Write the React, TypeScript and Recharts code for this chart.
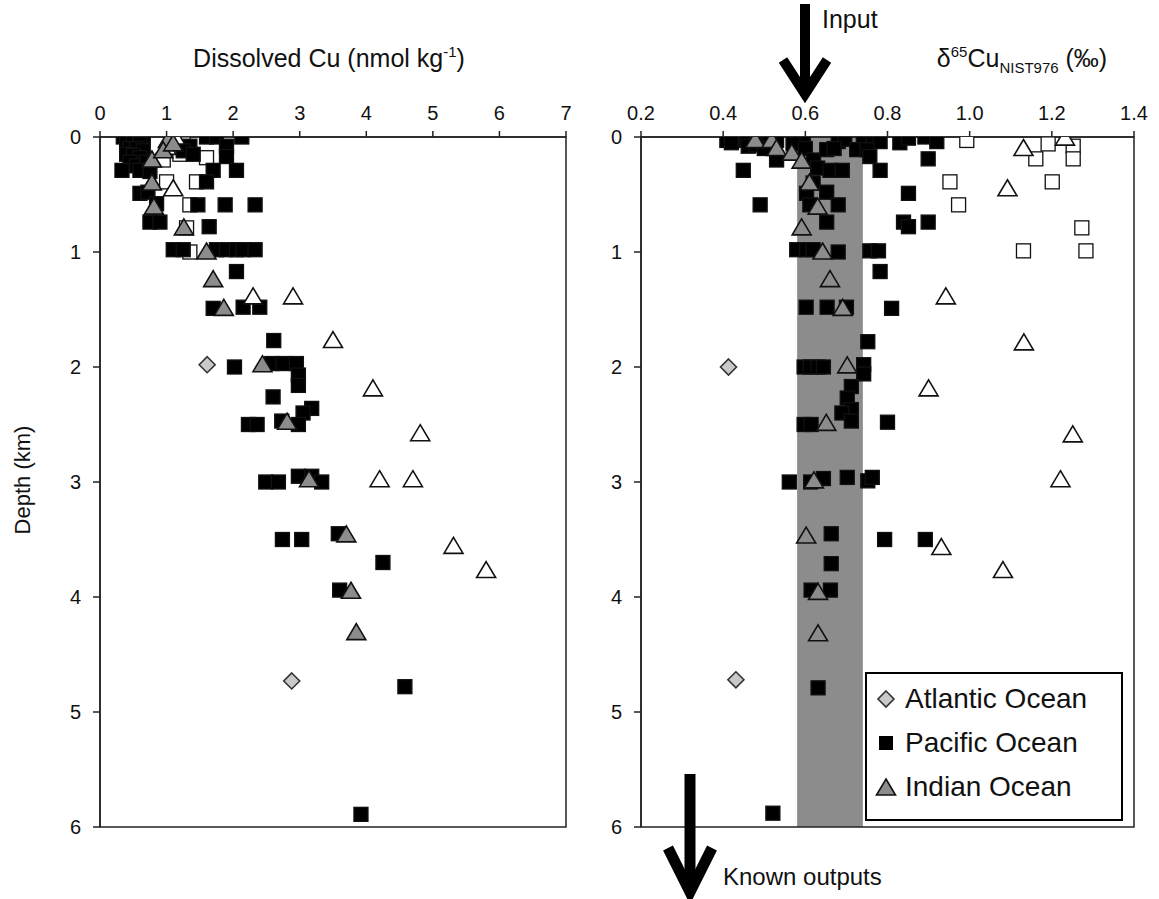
import React from 'react';
import { ScatterChart, Scatter, XAxis, YAxis, ReferenceArea, Legend } from 'recharts';

type Pt = [number, number];

const FONT = "'Liberation Sans', Arial, Helvetica, sans-serif";

// axis ticks
const cuTicks = [0, 1, 2, 3, 4, 5, 6, 7];
const d65Ticks = [0.2, 0.4, 0.6, 0.8, 1.0, 1.2, 1.4];
const depthTicks = [0, 1, 2, 3, 4, 5, 6];

// shaded "input" range of d65Cu
const inputBand = [0.58, 0.74];

// Dissolved Cu panel: [Cu nmol/kg, depth km]
const atlanticCu: Pt[] = [[1.61, 1.98], [2.88, 4.73]];
const pacificCu: Pt[] = [
  [0.35, 0.0], [0.45, 0.0], [0.55, 0.0], [0.65, 0.0], [0.4, 0.05], [0.5, 0.04], [0.6, 0.06], [0.45, 0.1],
  [0.55, 0.1], [0.65, 0.12], [0.4, 0.15], [0.5, 0.16], [0.6, 0.18], [0.45, 0.22], [0.55, 0.25], [0.7, 0.22],
  [0.33, 0.29], [0.6, 0.29], [0.75, 0.3], [0.6, 0.49], [0.72, 0.48], [0.85, 0.58], [0.75, 0.74], [0.9, 0.74],
  [1.1, 0.98], [1.25, 0.98], [1.6, 0.0], [1.75, 0.0], [2.13, 0.0], [1.9, 0.08], [1.9, 0.17], [1.35, 0.08],
  [1.25, 0.12], [1.4, 0.15], [2.05, 0.29], [1.7, 0.29], [1.6, 0.39], [1.47, 0.59], [1.88, 0.59], [2.33, 0.59],
  [1.64, 0.78], [1.75, 0.98], [1.9, 0.98], [2.05, 0.98], [2.15, 0.98], [2.33, 0.98], [2.05, 1.17], [1.7, 1.49],
  [2.15, 1.48], [2.4, 1.48], [2.61, 1.77], [2.02, 2.0], [2.58, 1.97], [2.75, 1.97], [2.95, 1.97], [2.98, 2.07],
  [2.98, 2.16], [2.6, 2.26], [3.18, 2.36], [3.05, 2.4], [2.23, 2.5], [2.36, 2.5], [2.73, 2.47], [2.98, 2.5],
  [2.49, 3.0], [2.68, 3.0], [2.98, 2.95], [3.18, 2.95], [3.33, 3.0], [2.74, 3.5], [3.03, 3.5], [3.58, 3.45],
  [4.25, 3.7], [3.6, 3.94], [4.58, 4.78], [3.92, 5.89],
];
const indianCu: Pt[] = [
  [0.78, 0.2], [0.78, 0.4], [0.81, 0.61], [1.26, 0.79], [1.6, 1.0], [1.7, 1.24], [1.86, 1.49], [2.44, 1.98],
  [2.81, 2.48], [3.14, 2.98], [3.7, 3.46], [3.77, 3.95], [3.85, 4.31], [1.02, 0.03], [0.95, 0.12], [1.1, 0.06],
];
const openTriCu: Pt[] = [
  [1.13, 0.0], [1.1, 0.45], [2.3, 1.39], [2.9, 1.39], [3.5, 1.77], [4.1, 2.19], [4.81, 2.58], [4.2, 2.98],
  [4.7, 2.98], [5.31, 3.56], [5.8, 3.77], [1.0, 0.09],
];
const openSqCu: Pt[] = [
  [1.6, 0.18], [1.0, 0.39], [1.45, 0.39], [1.35, 0.59], [1.3, 0.79], [1.35, 1.0], [1.15, 0.03], [1.05, 0.1],
  [1.25, 0.06], [1.2, 0.15], [0.95, 0.2],
];

// d65Cu panel: [d65Cu permil, depth km]
const atlanticD65: Pt[] = [[0.413, 2.0], [0.431, 4.72]];
const pacificD65: Pt[] = [
  [0.409, 0.03], [0.433, 0.02], [0.457, 0.03], [0.506, 0.02], [0.53, 0.03], [0.579, 0.02], [0.595, 0.04],
  [0.68, 0.04], [0.696, 0.02], [0.741, 0.04], [0.765, 0.03], [0.782, 0.04], [0.83, 0.05], [0.851, 0.01],
  [0.891, 0.0], [0.92, 0.04], [0.461, 0.08], [0.42, 0.05], [0.48, 0.07], [0.5, 0.1], [0.53, 0.2], [0.57, 0.06],
  [0.6, 0.1], [0.62, 0.2], [0.63, 0.27], [0.449, 0.29], [0.652, 0.11], [0.67, 0.1], [0.66, 0.29], [0.69, 0.29],
  [0.619, 0.4], [0.603, 0.49], [0.652, 0.48], [0.611, 0.59], [0.68, 0.59], [0.652, 0.74], [0.49, 0.59],
  [0.725, 0.11], [0.75, 0.11], [0.757, 0.17], [0.782, 0.29], [0.899, 0.19], [0.851, 0.49], [0.839, 0.74],
  [0.851, 0.78], [0.899, 0.74], [0.579, 0.98], [0.603, 0.98], [0.619, 0.98], [0.68, 1.0], [0.757, 0.99],
  [0.778, 0.99], [0.782, 1.17], [0.602, 1.48], [0.653, 1.48], [0.7, 1.48], [0.81, 1.49], [0.752, 1.78],
  [0.597, 2.0], [0.612, 2.0], [0.631, 2.0], [0.644, 2.0], [0.742, 1.98], [0.742, 2.06], [0.712, 2.17],
  [0.702, 2.27], [0.712, 2.37], [0.689, 2.4], [0.712, 2.47], [0.597, 2.5], [0.614, 2.5], [0.8, 2.48],
  [0.561, 3.0], [0.613, 3.0], [0.644, 2.97], [0.702, 2.96], [0.752, 2.99], [0.763, 2.96], [0.663, 3.45],
  [0.793, 3.5], [0.892, 3.5], [0.663, 3.71], [0.614, 3.94], [0.661, 3.94], [0.631, 4.79], [0.521, 5.88],
];
const indianD65: Pt[] = [
  [0.478, 0.03], [0.518, 0.03], [0.53, 0.1], [0.567, 0.14], [0.591, 0.21], [0.61, 0.4], [0.63, 0.61],
  [0.591, 0.79], [0.642, 1.0], [0.66, 1.24], [0.691, 1.49], [0.702, 1.99], [0.651, 2.49], [0.621, 2.99],
  [0.602, 3.47], [0.631, 3.96], [0.631, 4.32],
];
const openTriD65: Pt[] = [
  [1.232, 0.01], [1.131, 0.1], [1.092, 0.45], [0.942, 1.39], [1.132, 1.79], [0.9, 2.19], [1.251, 2.59],
  [1.221, 2.98], [0.931, 3.57], [1.081, 3.77],
];
const openSqD65: Pt[] = [
  [0.993, 0.03], [1.191, 0.06], [1.161, 0.19], [1.252, 0.08], [1.252, 0.19], [0.952, 0.39], [1.201, 0.39],
  [0.973, 0.59], [1.273, 0.79], [1.131, 0.99], [1.283, 0.99],
];

const legendItems = ['Atlantic Ocean', 'Pacific Ocean', 'Indian Ocean'];

const toRows = (pts: Pt[]) => pts.map(([x, y]) => ({ x, y }));

// marker shapes
const square = (fill: string) => (p: any) => (
  <rect x={p.cx - 7} y={p.cy - 7} width={14} height={14} fill={fill} stroke="#111" strokeWidth={1.3} />
);
const triangle = (fill: string) => (p: any) => (
  <polygon
    points={`${p.cx},${p.cy - 9} ${p.cx + 9.5},${p.cy + 7} ${p.cx - 9.5},${p.cy + 7}`}
    fill={fill}
    stroke="#111"
    strokeWidth={1.6}
  />
);
const diamond = (p: any) => (
  <polygon
    points={`${p.cx},${p.cy - 8} ${p.cx + 8},${p.cy} ${p.cx},${p.cy + 8} ${p.cx - 8},${p.cy}`}
    fill="#c9c9c9"
    stroke="#333"
    strokeWidth={1.6}
  />
);

const axisStyle = { stroke: '#222', strokeWidth: 1.5 };
const tickStyle = { fill: '#111', fontSize: 20, fontFamily: FONT };

const LegendBox = () => (
  <div
    style={{
      border: '2px solid #000',
      background: '#fff',
      width: 254,
      height: 142,
      boxSizing: 'content-box',
      paddingTop: 3,
      fontFamily: FONT,
    }}
  >
    {legendItems.map((name, i) => (
      <div key={name} style={{ display: 'flex', alignItems: 'center', height: 44, paddingLeft: 8 }}>
        <svg width={22} height={22} style={{ marginRight: 8 }}>
          {i === 0 && <polygon points="11,3 19,11 11,19 3,11" fill="#c9c9c9" stroke="#333" strokeWidth={1.6} />}
          {i === 1 && <rect x={4} y={4} width={14} height={14} fill="#000" />}
          {i === 2 && <polygon points="11,3 20.5,19 1.5,19" fill="#8c8c8c" stroke="#111" strokeWidth={1.6} />}
        </svg>
        <span style={{ fontSize: 28, color: '#111', whiteSpace: 'nowrap' }}>{name}</span>
      </div>
    ))}
  </div>
);

const App: React.FC = () => {
  return (
    <div style={{ position: 'absolute', left: 0, top: 0, width: 1159, height: 899, background: '#fff' }}>
      {/* Dissolved Cu */}
      <div style={{ position: 'absolute', left: 0, top: 0 }}>
        <ScatterChart width={600} height={899} margin={{ top: 107, right: 34, bottom: 72, left: 40 }}>
          <XAxis
            type="number"
            dataKey="x"
            orientation="top"
            domain={[0, 7]}
            ticks={cuTicks}
            height={30}
            axisLine={axisStyle}
            tickLine={axisStyle}
            tickSize={6}
            tickMargin={11}
            tick={tickStyle}
            allowDataOverflow
          />
          <YAxis
            type="number"
            dataKey="y"
            reversed
            domain={[0, 6]}
            ticks={depthTicks}
            width={60}
            axisLine={axisStyle}
            tickLine={axisStyle}
            tickSize={7}
            tickMargin={12}
            tick={tickStyle}
            allowDataOverflow
          />
          <ReferenceArea x1={0} x2={7} y1={0} y2={6} fill="none" stroke="#222" strokeWidth={1.5} />
          <Scatter data={toRows(openSqCu)} shape={square('#fff')} isAnimationActive={false} />
          <Scatter data={toRows(pacificCu)} shape={square('#000')} isAnimationActive={false} />
          <Scatter data={toRows(openTriCu)} shape={triangle('#fff')} isAnimationActive={false} />
          <Scatter data={toRows(indianCu)} shape={triangle('#8c8c8c')} isAnimationActive={false} />
          <Scatter data={toRows(atlanticCu)} shape={diamond} isAnimationActive={false} />
        </ScatterChart>
      </div>

      {/* d65Cu */}
      <div style={{ position: 'absolute', left: 541, top: 0 }}>
        <ScatterChart width={613} height={899} margin={{ top: 107, right: 20, bottom: 72, left: 40 }}>
          <XAxis
            type="number"
            dataKey="x"
            orientation="top"
            domain={[0.2, 1.4]}
            ticks={d65Ticks}
            tickFormatter={(v: number) => v.toFixed(1)}
            height={30}
            axisLine={axisStyle}
            tickLine={axisStyle}
            tickSize={6}
            tickMargin={11}
            tick={tickStyle}
            allowDataOverflow
          />
          <YAxis
            type="number"
            dataKey="y"
            reversed
            domain={[0, 6]}
            ticks={depthTicks}
            width={60}
            axisLine={axisStyle}
            tickLine={axisStyle}
            tickSize={7}
            tickMargin={12}
            tick={tickStyle}
            allowDataOverflow
          />
          <ReferenceArea x1={inputBand[0]} x2={inputBand[1]} y1={0} y2={6} fill="#8c8c8c" fillOpacity={1} stroke="none" />
          <ReferenceArea x1={0.2} x2={1.4} y1={0} y2={6} fill="none" stroke="#222" strokeWidth={1.5} />
          <Scatter data={toRows(openSqD65)} shape={square('#fff')} isAnimationActive={false} />
          <Scatter data={toRows(pacificD65)} shape={square('#000')} isAnimationActive={false} />
          <Scatter data={toRows(openTriD65)} shape={triangle('#fff')} isAnimationActive={false} />
          <Scatter data={toRows(indianD65)} shape={triangle('#8c8c8c')} isAnimationActive={false} />
          <Scatter data={toRows(atlanticD65)} shape={diamond} isAnimationActive={false} />
          <Legend
            layout="vertical"
            align="center"
            verticalAlign="middle"
            content={() => <LegendBox />}
            wrapperStyle={{ position: 'absolute', left: 324, top: 672, width: 258, height: 147 }}
          />
        </ScatterChart>
      </div>

      {/* titles and arrows */}
      <svg
        width={1159}
        height={899}
        style={{ position: 'absolute', left: 0, top: 0, pointerEvents: 'none' }}
        fontFamily={FONT}
        fill="#111"
      >
        <text x={329} y={67} fontSize={25} textAnchor="middle">
          Dissolved Cu (nmol kg<tspan dy={-10} fontSize={15}>-1</tspan>
          <tspan dy={10}>)</tspan>
        </text>
        <text x={1022} y={67} fontSize={25} textAnchor="middle">
          δ<tspan dy={-10} fontSize={15}>65</tspan>
          <tspan dy={10}>Cu</tspan>
          <tspan dy={6} fontSize={15}>NIST976</tspan>
          <tspan dy={-6}> (‰)</tspan>
        </text>
        <text transform="translate(30,480) rotate(-90)" fontSize={22} textAnchor="middle">
          Depth (km)
        </text>
        <text x={822} y={28} fontSize={25}>Input</text>
        <text x={723} y={885} fontSize={24}>Known outputs</text>

        <g stroke="#000" fill="none" strokeWidth={10}>
          <line x1={805} y1={4} x2={805} y2={90} />
          <polyline points="783,60 805,94 827,60" strokeLinejoin="miter" />
          <line x1={690} y1={774} x2={690} y2={888} strokeWidth={11} />
          <polyline points="668,848 690,892 712,848" strokeWidth={11} strokeLinejoin="miter" />
        </g>
      </svg>
    </div>
  );
};

export default App;
